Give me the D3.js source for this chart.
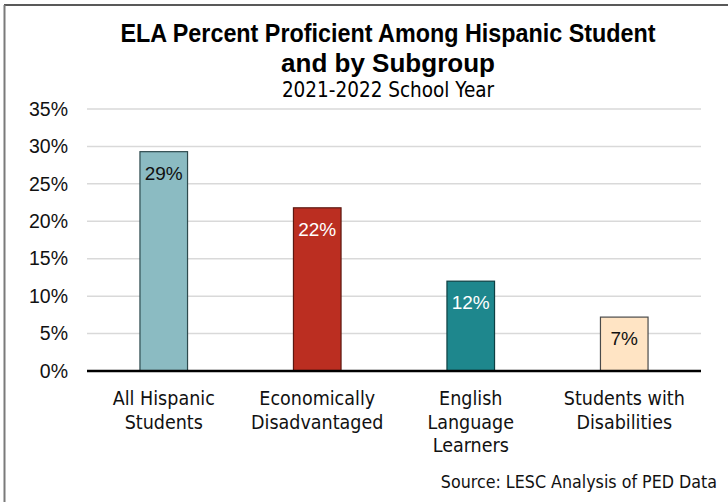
<!DOCTYPE html>
<html>
<head>
<meta charset="utf-8">
<script src="https://cdn.jsdelivr.net/npm/d3@7"></script>
<style>
  html, body { margin: 0; padding: 0; background: #fff; }
  svg { display: block; }
</style>
</head>
<body>
<svg id="chart" width="728" height="502"></svg>
<script>
// Subgroups and their ELA proficiency rates (2021-2022)
const categories = [
  ["All Hispanic", "Students"],
  ["Economically", "Disadvantaged"],
  ["English", "Language", "Learners"],
  ["Students with", "Disabilities"]
];
const values = [0.293, 0.218, 0.120, 0.072];
const fills = ["#8bbbc2", "#bb2e21", "#1e878d", "#ffe4c4"];
const strokes = ["#2e4a4e", "#5c1811", "#0e3f42", "#4a4a4a"];
const labelColors = ["#111", "#fff", "#fff", "#111"];
const yTicks = [0, 0.05, 0.10, 0.15, 0.20, 0.25, 0.30, 0.35];

const titleLines = ["ELA Percent Proficient Among Hispanic Student", "and by Subgroup"];
const titleWidths = [535, 214];
const subtitle = "2021-2022 School Year";
const source = "Source: LESC Analysis of PED Data";

const svg = d3.select("#chart");
const W = 728, H = 502;
const margin = { top: 109, right: 27, bottom: 131, left: 87 };
const innerW = W - margin.left - margin.right;
const innerH = H - margin.top - margin.bottom;

const narrow = "'DejaVu Sans Condensed', 'Liberation Sans', sans-serif";
const sans = "'Liberation Sans', Arial, sans-serif";

// frame lines
svg.append("line").attr("x1", 4).attr("x2", W).attr("y1", 5).attr("y2", 5)
  .attr("stroke", "#222").attr("stroke-width", 1.5);
svg.append("line").attr("x1", 4.5).attr("x2", 4.5).attr("y1", 5).attr("y2", H)
  .attr("stroke", "#7a7a7a").attr("stroke-width", 2);

// titles
const titleG = svg.append("g").attr("text-anchor", "middle").attr("fill", "#000");
titleG.selectAll("text.title").data(titleLines).join("text")
  .attr("class", "title")
  .attr("x", 388).attr("y", (d, i) => 42 + i * 30)
  .attr("font-family", sans)
  .attr("font-size", 26).attr("font-weight", "bold")
  .attr("textLength", (d, i) => titleWidths[i])
  .attr("lengthAdjust", "spacingAndGlyphs")
  .text(d => d);
titleG.append("text").attr("x", 388).attr("y", 97)
  .attr("font-family", narrow)
  .attr("font-size", 20.5).text(subtitle);

const g = svg.append("g").attr("transform", `translate(${margin.left},${margin.top})`);

const x = d3.scaleBand().domain(d3.range(values.length)).range([0, innerW]).paddingInner(0.69).paddingOuter(0.345);
const y = d3.scaleLinear().domain([0, 0.35]).range([innerH, 0]);

// gridlines
g.append("g").selectAll("line").data(yTicks.slice(1)).join("line")
  .attr("x1", 0).attr("x2", innerW)
  .attr("y1", d => y(d)).attr("y2", d => y(d))
  .attr("stroke", "#d9d9d9").attr("stroke-width", 1.5);

// y axis labels
const yAxis = g.append("g")
  .call(d3.axisLeft(y).tickValues(yTicks).tickFormat(d3.format(".0%")).tickSize(0).tickPadding(19));
yAxis.select(".domain").remove();
yAxis.selectAll("text").attr("font-family", sans).attr("font-size", 19.5).attr("fill", "#111");

// bars
g.selectAll("rect.bar").data(values).join("rect")
  .attr("class", "bar")
  .attr("x", (d, i) => x(i)).attr("width", x.bandwidth())
  .attr("y", d => y(d)).attr("height", d => innerH - y(d))
  .attr("fill", (d, i) => fills[i])
  .attr("stroke", (d, i) => strokes[i]).attr("stroke-width", 1.2);

// value labels
g.selectAll("text.val").data(values).join("text")
  .attr("class", "val")
  .attr("x", (d, i) => x(i) + x.bandwidth() / 2)
  .attr("y", d => y(d) + 28)
  .attr("text-anchor", "middle")
  .attr("font-family", sans).attr("font-size", 19)
  .attr("fill", (d, i) => labelColors[i])
  .text(d => d3.format(".0%")(d));

// baseline
g.append("line").attr("x1", 0).attr("x2", innerW).attr("y1", innerH).attr("y2", innerH)
  .attr("stroke", "#000").attr("stroke-width", 2.5);

// category labels
const xAxis = g.append("g").attr("transform", `translate(0,${innerH})`)
  .call(d3.axisBottom(x).tickSize(0).tickFormat(""));
xAxis.select(".domain").remove();
xAxis.selectAll(".tick").each(function(i) {
  const t = d3.select(this).append("text")
    .attr("text-anchor", "middle").attr("fill", "#111")
    .attr("font-family", narrow).attr("font-size", 19.5);
  t.selectAll("tspan").data(categories[i]).join("tspan")
    .attr("x", 0).attr("y", (d, k) => 34 + k * 23.5).text(d => d);
});

// source note
svg.append("text").attr("x", 717).attr("y", 488)
  .attr("text-anchor", "end").attr("font-family", narrow).attr("font-size", 17.7).attr("fill", "#111")
  .text(source);
</script>
</body>
</html>
